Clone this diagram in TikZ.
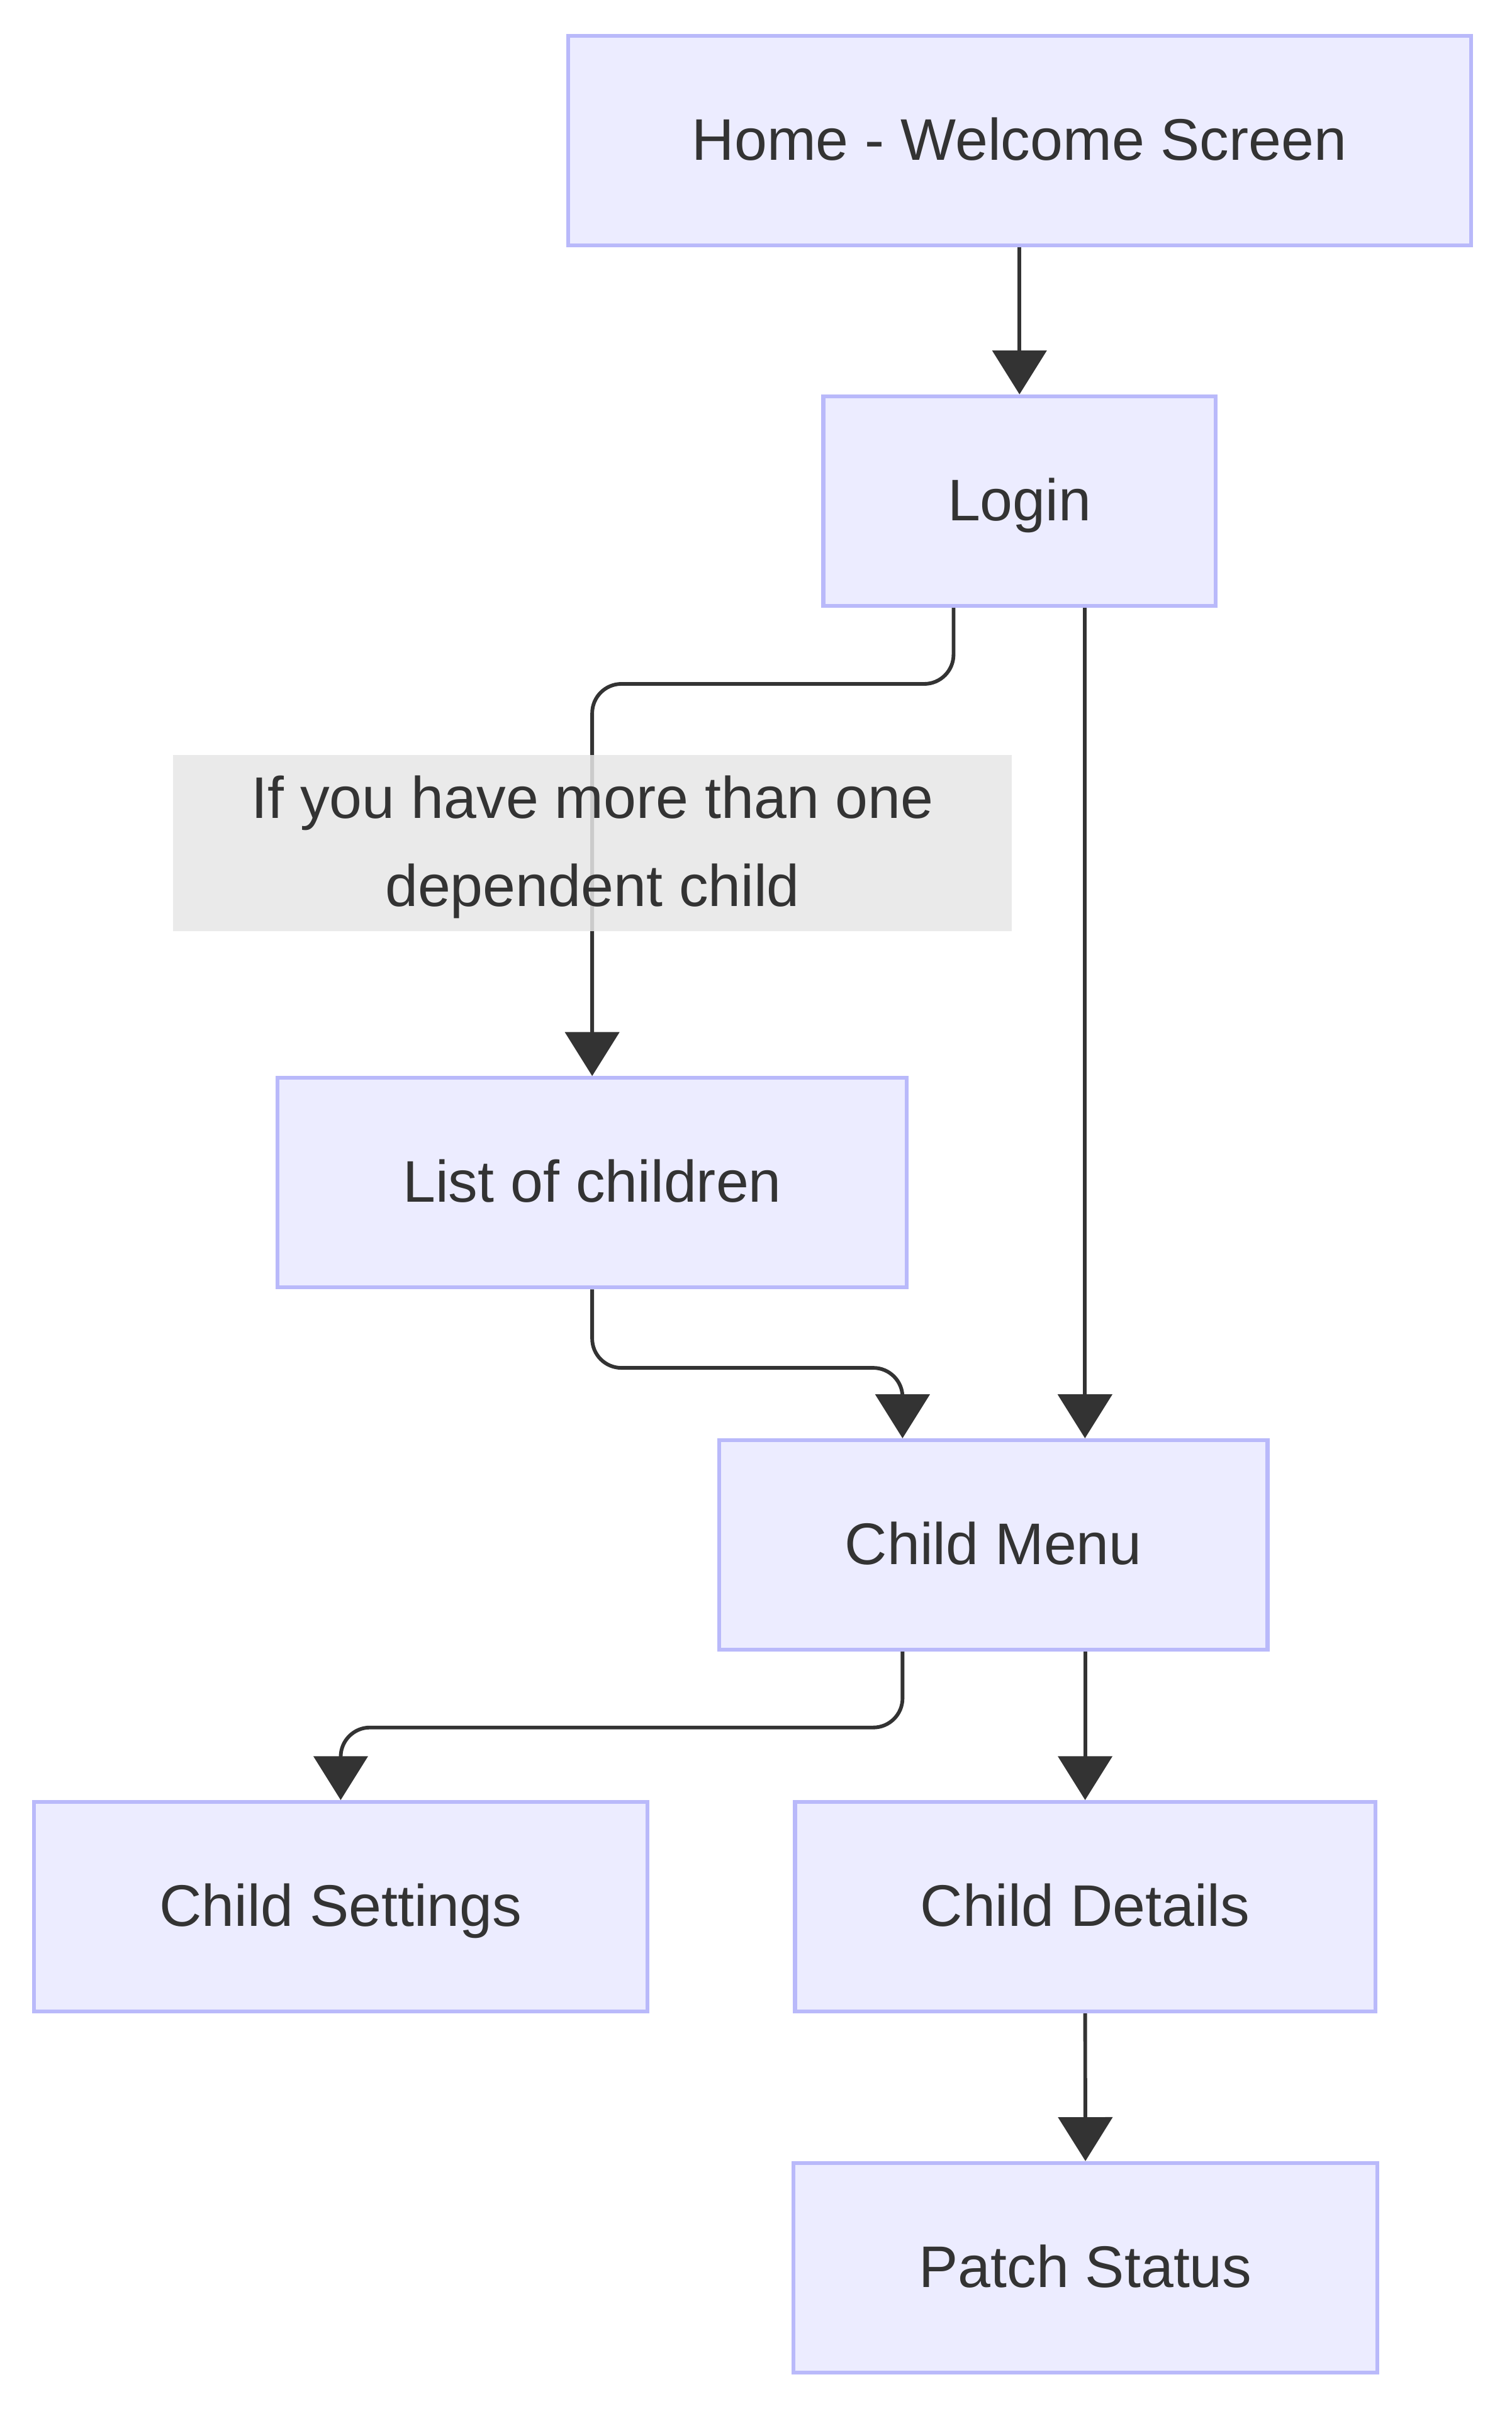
\documentclass[tikz,border=0pt]{standalone}
\usepackage{fontspec}
\setmainfont{Liberation Sans}
\usetikzlibrary{arrows.meta}
\definecolor{boxfill}{HTML}{ECECFF}
\definecolor{boxline}{HTML}{B9B9FA}
\definecolor{ink}{HTML}{333333}
\definecolor{lblfill}{HTML}{E6E6E6}
\newcommand{\lnstrut}{\rule[-8pt]{0pt}{41pt}}

\begin{document}
\begin{tikzpicture}[x=1pt,y=1pt]
\tikzstyle{every node}+=[inner sep=0pt, text=ink, font=\fontsize{38.1}{57.1}\selectfont]
\tikzstyle{screen}=[draw=boxline, fill=boxfill, line width=2.5pt, minimum height=136pt, text height=33pt, text depth=8pt]
\tikzstyle{flow}=[draw=ink, line width=2.4pt, rounded corners=19pt, -{Triangle[length=28.5pt,width=35pt]}]
\useasboundingbox (0,0) rectangle (981,-1568);
\node [screen, minimum width=586pt] (home) at (661.6,-91.3) {Home - Welcome Screen};
\node [screen, minimum width=254.6pt] (login) at (661.6,-325.2) {Login};
\node [screen, minimum width=408.5pt] (list) at (384.3,-767.6) {List of children};
\node [screen, minimum width=355.8pt] (menu) at (644.7,-1002.7) {Child Menu};
\node [screen, minimum width=397.9pt] (settings) at (221.1,-1237.5) {Child Settings};
\node [screen, minimum width=376.6pt] (details) at (704.2,-1237.5) {Child Details};
\node [screen, minimum width=378.7pt] (patch) at (704.4,-1471.8) {Patch Status};
\draw [flow] (home.south) -- (login.north);
\draw [flow] ([xshift=-42.8pt]login.south) -- ++(0,-49.4) -| (list.north);
\draw [flow] ([xshift=42.5pt]login.south) -- ([xshift=42.5pt]login.south |- menu.north);
\draw [flow] (list.south) -- ++(0,-50.9) -| ([xshift=-59pt]menu.north);
\draw [flow] ([xshift=-59pt]menu.south) -- ++(0,-49.2) -| (settings.north);
\draw [flow] (menu.south -| details.north) -- (details.north);
\draw [flow] (details.south) -- (patch.north);
\node [fill=lblfill, fill opacity=0.85, text opacity=1, minimum width=544.4pt, minimum height=114.3pt, align=center] (cond) at (384.5,-547.2) {\lnstrut If you have more than one\\\lnstrut dependent child};
\end{tikzpicture}
\end{document}
